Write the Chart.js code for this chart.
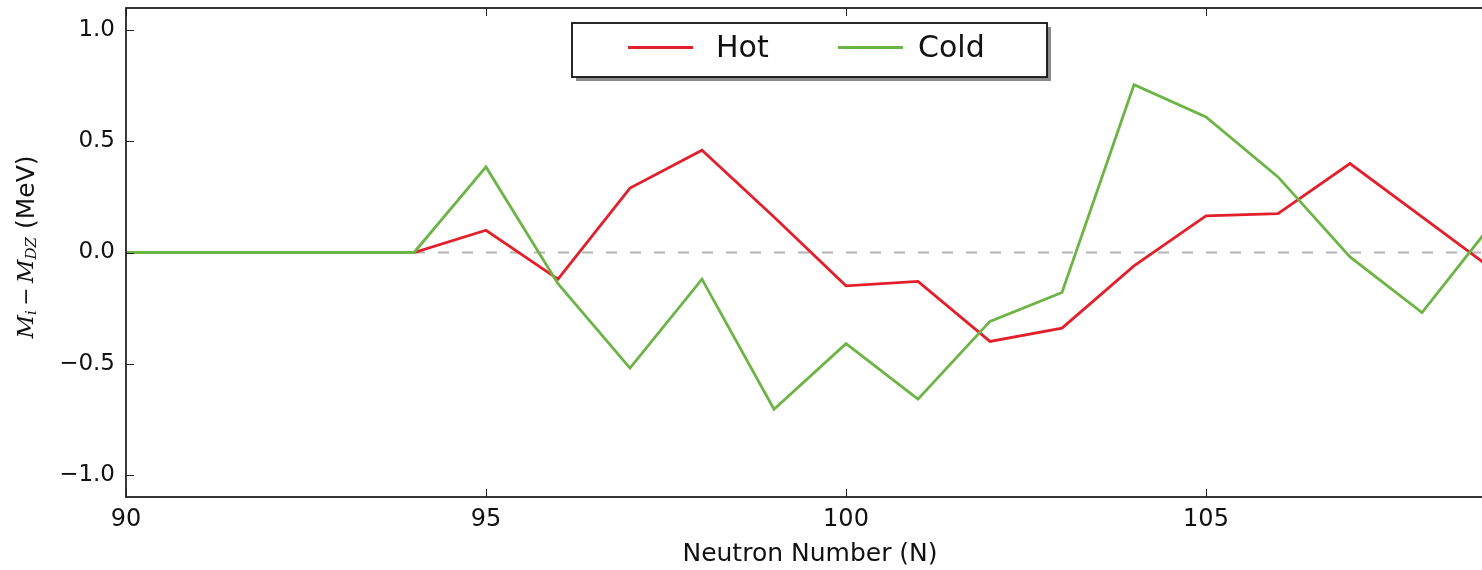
<!DOCTYPE html>
<html>
<head>
<meta charset="utf-8">
<script src="https://cdn.jsdelivr.net/npm/chart.js@4/dist/chart.umd.min.js"></script>
<style>
  html, body { margin: 0; padding: 0; background: #fff; overflow: hidden; }
  #wrap { width: 1520px; height: 570px; }
</style>
</head>
<body>
<div id="wrap"><canvas id="massChart" width="1520" height="570"></canvas></div>
<script>
// neutron numbers and mass differences (MeV)
const neutronN = [90, 91, 92, 93, 94, 95, 96, 97, 98, 99, 100, 101, 102, 103, 104, 105, 106, 107, 108, 109];
const hotDiff  = [0, 0, 0, 0, 0, 0.10, -0.12, 0.29, 0.46, 0.16, -0.15, -0.13, -0.40, -0.34, -0.06, 0.165, 0.175, 0.40, 0.16, -0.08];
const coldDiff = [0, 0, 0, 0, 0, 0.385, -0.14, -0.52, -0.12, -0.705, -0.41, -0.66, -0.31, -0.18, 0.755, 0.61, 0.34, -0.02, -0.27, 0.14];
const zeroRefX = [90, 109];
const zeroRefY = [0, 0];
const xTicks = [90, 95, 100, 105];
const yTicks = [-1.0, -0.5, 0.0, 0.5, 1.0];

const hotColor = '#e2202c';
const coldColor = '#6db446';

const toPoints = (xs, ys) => xs.map((x, i) => ({ x: x, y: ys[i] }));

// frame, inward ticks, y label with subscripts and the boxed legend
const decorations = {
  id: 'decorations',
  afterDatasetsDraw(chart) {
    const ctx = chart.ctx;
    const area = chart.chartArea;
    const xs = chart.scales.x;
    const ys = chart.scales.y;
    const tickLen = 8;

    ctx.save();
    ctx.strokeStyle = '#222';
    ctx.lineWidth = 1;
    xTicks.forEach(v => {
      const px = Math.round(xs.getPixelForValue(v)) + 0.5;
      ctx.beginPath();
      ctx.moveTo(px, area.bottom); ctx.lineTo(px, area.bottom - tickLen);
      ctx.moveTo(px, area.top); ctx.lineTo(px, area.top + tickLen);
      ctx.stroke();
    });
    yTicks.forEach(v => {
      const py = Math.round(ys.getPixelForValue(v)) + 0.5;
      ctx.beginPath();
      ctx.moveTo(area.left, py); ctx.lineTo(area.left + tickLen, py);
      ctx.moveTo(area.right, py); ctx.lineTo(area.right - tickLen, py);
      ctx.stroke();
    });

    ctx.lineWidth = 1.8;
    ctx.strokeRect(area.left, area.top, area.right - area.left, area.bottom - area.top);

    // legend box
    const lx = 572, ly = 23, lw = 475, lh = 54;
    ctx.fillStyle = '#8a8a8a';
    ctx.fillRect(lx + 4, ly + 4, lw, lh);
    ctx.fillStyle = '#fff';
    ctx.fillRect(lx, ly, lw, lh);
    ctx.strokeStyle = '#111';
    ctx.lineWidth = 1.8;
    ctx.strokeRect(lx, ly, lw, lh);

    const entries = [
      { label: chart.data.datasets[0].label, color: hotColor, x0: 628, tx: 716 },
      { label: chart.data.datasets[1].label, color: coldColor, x0: 838, tx: 918 }
    ];
    ctx.font = '30px "DejaVu Sans"';
    ctx.textBaseline = 'middle';
    ctx.textAlign = 'left';
    entries.forEach(e => {
      ctx.strokeStyle = e.color;
      ctx.lineWidth = 2.8;
      ctx.beginPath();
      ctx.moveTo(e.x0, 47.5); ctx.lineTo(e.x0 + 65, 47.5);
      ctx.stroke();
      ctx.fillStyle = '#111';
      ctx.fillText(e.label, e.tx, 49);
    });
    ctx.restore();

    // y axis title: M_i - M_DZ (MeV)
    const parts = [
      { t: 'M', f: 'italic 23px "DejaVu Serif"', dy: 0 },
      { t: 'i', f: 'italic 15px "DejaVu Serif"', dy: 5 },
      { t: '\u2009\u2212\u2009', f: '22px "DejaVu Serif"', dy: 0 },
      { t: 'M', f: 'italic 23px "DejaVu Serif"', dy: 0 },
      { t: 'DZ', f: 'italic 15px "DejaVu Serif"', dy: 5 },
      { t: ' (MeV)', f: '25px "DejaVu Sans"', dy: 0 }
    ];
    ctx.save();
    ctx.translate(27, 247);
    ctx.rotate(-Math.PI / 2);
    ctx.fillStyle = '#111';
    ctx.textBaseline = 'middle';
    ctx.textAlign = 'left';
    let total = 0;
    parts.forEach(p => { ctx.font = p.f; p.w = ctx.measureText(p.t).width; total += p.w; });
    let cx = -total / 2;
    parts.forEach(p => {
      ctx.font = p.f;
      ctx.fillText(p.t, cx, p.dy);
      cx += p.w;
    });
    ctx.restore();
  }
};

new Chart(document.getElementById('massChart'), {
  type: 'line',
  data: {
    datasets: [
      {
        label: 'Hot',
        data: toPoints(neutronN, hotDiff),
        borderColor: hotColor,
        borderWidth: 2.8,
        pointRadius: 0,
        tension: 0,
        order: 1
      },
      {
        label: 'Cold',
        data: toPoints(neutronN, coldDiff),
        borderColor: coldColor,
        borderWidth: 2.8,
        pointRadius: 0,
        tension: 0,
        order: 0
      },
      {
        label: 'zero',
        data: toPoints(zeroRefX, zeroRefY),
        borderColor: '#b4b4b4',
        borderWidth: 2,
        borderDash: [11, 13],
        pointRadius: 0,
        order: 2
      }
    ]
  },
  options: {
    responsive: false,
    animation: false,
    devicePixelRatio: 1,
    layout: { padding: { top: 8, right: 26, left: 0, bottom: 0 } },
    plugins: {
      legend: { display: false },
      tooltip: { enabled: false }
    },
    scales: {
      x: {
        type: 'linear',
        min: 90,
        max: 109,
        afterBuildTicks: s => { s.ticks = xTicks.map(v => ({ value: v })); },
        afterFit: s => { s.height = 73; s.paddingLeft = 0; s.paddingRight = 0; },
        grid: { display: false, drawTicks: false },
        border: { display: false },
        ticks: {
          padding: 8,
          color: '#111',
          font: { family: 'DejaVu Sans', size: 24 },
          callback: v => String(v)
        },
        title: {
          display: true,
          text: 'Neutron Number (N)',
          color: '#111',
          font: { family: 'DejaVu Sans', size: 25 },
          padding: { top: 0, bottom: 1 }
        }
      },
      y: {
        min: -1.1,
        max: 1.1,
        afterBuildTicks: s => { s.ticks = yTicks.map(v => ({ value: v })); },
        afterFit: s => { s.width = 126; s.paddingTop = 0; s.paddingBottom = 0; },
        grid: { display: false, drawTicks: false },
        border: { display: false },
        ticks: {
          padding: 11,
          color: '#111',
          font: { family: 'DejaVu Sans', size: 23 },
          callback: v => v.toFixed(1).replace('-', '\u2212')
        }
      }
    }
  },
  plugins: [decorations]
});
</script>
</body>
</html>
